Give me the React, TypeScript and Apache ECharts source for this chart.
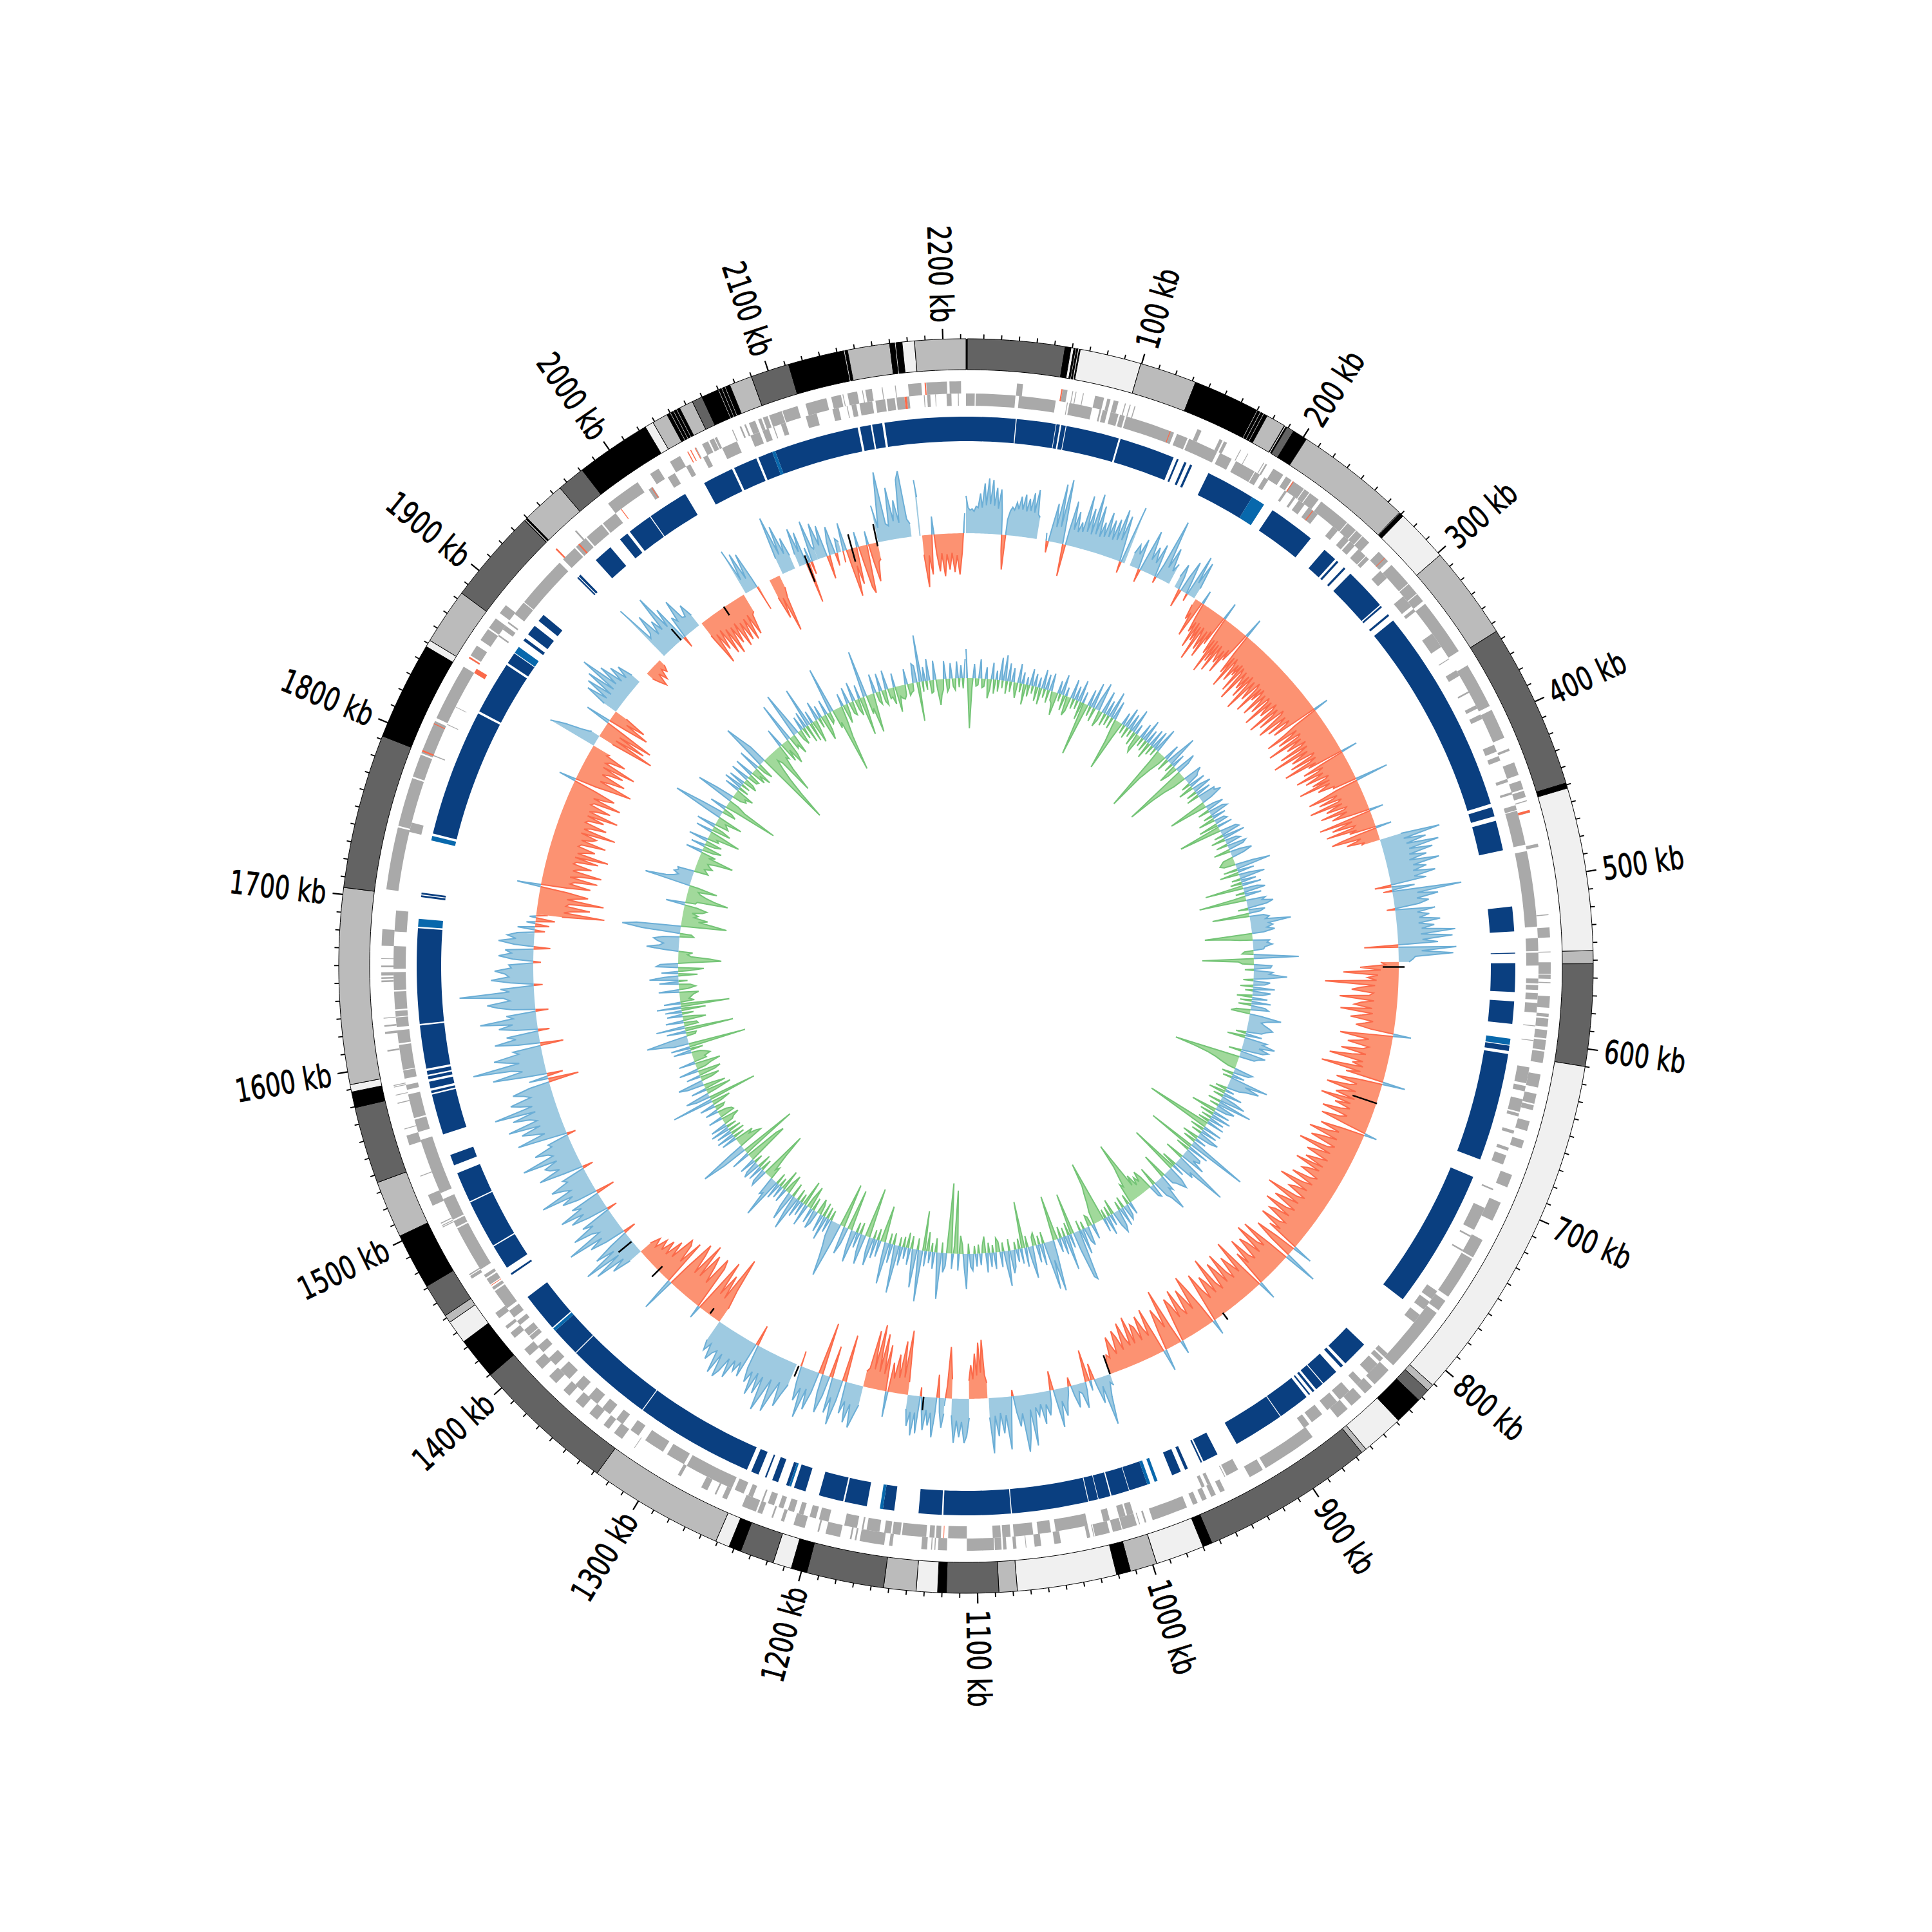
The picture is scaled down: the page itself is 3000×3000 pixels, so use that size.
import React, { useEffect, useRef } from "react";
import * as echarts from "echarts";

const genomeKb = 2213;
const tickLabelKb = [100,200,300,400,500,600,700,800,900,1000,1100,1200,1300,1400,1500,1600,1700,1800,1900,2000,2100,2200];
const minorTickStep = 10;

const bands: [number, number, string][] = [
[0,0.8,"gpos100"],[0.8,56,"gpos75"],[56,59.3,"gpos100"],[59.3,61,"gneg"],[61,62,"gpos100"],[62,62.4,"gneg"],[62.4,63.4,"gpos100"],[63.4,63.8,"gneg"],[63.8,64.6,"gpos100"],
[64.6,99.5,"gneg"],[99.5,132,"gpos50"],[132,170,"gpos100"],[170,170.4,"gneg"],[170.4,172,"gpos100"],[172,172.4,"gneg"],[172.4,174,"gpos100"],[174,174.4,"gneg"],[174.4,176.4,"gpos100"],
[176.4,187.5,"gpos50"],[187.5,188,"gpos100"],[188,188.4,"gneg"],[188.4,189.3,"gpos100"],[189.3,193.6,"gpos75"],[193.6,202,"gpos100"],[202,268.6,"gpos50"],[268.6,269.2,"gpos75"],[269.2,271.5,"gpos100"],
[271.5,301.7,"gneg"],[301.7,355,"gpos50"],[355,449,"gpos75"],[449,452,"gpos100"],[452,544.6,"gneg"],[544.6,552,"gpos50"],[552,610,"gpos75"],[610,811,"gneg"],[811,815,"gpos50"],[815,822.5,"gpos75"],
[822.5,838.6,"gpos100"],[838.6,863,"gneg"],[863,866,"gpos50"],[866,964.6,"gpos75"],[964.6,970,"gpos100"],[970,997.7,"gneg"],[997.7,1013,"gpos50"],[1013,1021,"gpos100"],[1021,1077.6,"gneg"],
[1077.6,1088,"gpos50"],[1088,1117.6,"gpos75"],[1117.6,1122.5,"gpos100"],[1122.5,1134.6,"gneg"],[1134.6,1153,"gpos50"],[1153,1197,"gpos75"],[1197,1206,"gpos100"],[1206,1216.6,"gneg"],[1216.6,1236,"gpos75"],
[1236,1243,"gpos100"],[1243,1251,"gneg"],[1251,1328,"gpos50"],[1328,1409.6,"gpos75"],[1409.6,1433.6,"gpos100"],[1433.6,1447,"gneg"],[1447,1451.5,"gpos50"],[1451.5,1471,"gpos75"],[1471,1503,"gpos100"],
[1503,1535.6,"gpos50"],[1535.6,1579.5,"gpos75"],[1579.5,1588.5,"gpos100"],[1588.5,1592.7,"gneg"],[1592.7,1704,"gpos50"],[1704,1792,"gpos75"],[1792,1848,"gpos100"],[1848,1852,"gneg"],[1852,1884,"gpos50"],
[1884,1938,"gpos75"],[1938,1938.5,"gpos100"],[1938.5,1939,"gneg"],[1939,1940,"gpos100"],[1940,1965,"gpos50"],[1965,1981,"gpos75"],[1981,2024,"gpos100"],[2024,2029,"gneg"],[2029,2038,"gpos50"],
[2038,2040,"gpos100"],[2040,2040.4,"gneg"],[2040.4,2042,"gpos100"],[2042,2042.4,"gneg"],[2042.4,2044,"gpos100"],[2044,2044.4,"gneg"],[2044.4,2046,"gpos100"],[2046,2054,"gpos50"],[2054,2060,"gpos75"],
[2060,2070,"gpos100"],[2070,2070.4,"gneg"],[2070.4,2072,"gpos100"],[2072,2072.4,"gneg"],[2072.4,2074,"gpos100"],[2074,2074.4,"gneg"],[2074.4,2077,"gpos100"],[2077,2090,"gpos50"],[2090,2112,"gpos75"],
[2112,2144,"gpos100"],[2144,2144.5,"gneg"],[2144.5,2146,"gpos100"],[2146,2170,"gpos50"],[2170,2173,"gpos100"],[2173,2173.5,"gneg"],[2173.5,2177,"gpos100"],[2177,2184,"gneg"],[2184,2213,"gpos50"],
];
const bandFill: Record<string, string> = { gneg: "#f0f0f0", gpos50: "#bbbbbb", gpos75: "#636363", gpos100: "#000000" };

const outerGenes: [number, number][] = [
[30.8,34.4],[58.5,61.5],[64.5,65],[66.5,67],[71,71.5],[78.5,84],[86,88],[90,93],[97,97.6],[100,100.6],[103,103.6],[143.4,146],[158,160],[161,163],[172,172.5],[177,177.4],[188,188.5],[189.5,190.5],[195,202],[204,208],[209,217],[217.5,221],[221.5,228],[230,250],[250.5,257],[257.5,262],[262.5,268],[276,284],[287,302],[302.5,310],[310.5,316],
[318,353],[363,391],[393.6,412],[419,420.5],[428,436],[439.6,445],[446,450],[452,452.6],[459,459.6],[479,481],[522,522.6],[530,536],[544.5,545],[551,558],[558.5,561],[563,563.6],[571.5,578.5],[582,584],[585,590],[592,597],[598,604],[605,612],[619,627],[631,637],[638,641],[648,654],[660,665],[682,690],[700,712],[725,737],[738,765],[768,775],[777,818],
[822,834],[836,842],[845,853],[856,864],[883,917],[919,928],[945,948],[951,954],[957,960],[963,966],[970,992],[996,997],[1000,1000.5],[1002,1011],[1011.5,1017],[1019,1028],[1028.5,1029],[1031,1033],[1049,1053],[1061,1065],[1070,1070.4],[1076,1078],[1082,1084],[1085,1089],[1089.5,1106],[1118,1123.4],[1125,1125.6],[1127,1127.6],[1130,1133.5],
[1151,1153],[1156,1171],[1173,1174],[1176,1177],[1183,1192],[1196,1197],[1205,1212],[1218,1220],[1225,1226],[1232,1235],[1236,1245],[1255,1258],[1262,1263],[1268,1272],[1286,1288],[1318.6,1319],[1328,1334],[1338,1342],[1347,1353],[1358,1364],[1369,1374],[1380,1386],[1392,1398],[1403,1408],[1417,1421],[1424,1426],[1432,1436],
[1461,1463],[1463.5,1464.3],[1496.5,1497],[1497.5,1498],[1499,1499.6],[1511,1518],[1530,1530.5],[1550,1556],[1560,1560.5],[1576,1576.6],[1581,1581.5],[1586,1586.5],[1587,1587.5],[1608,1609],[1618.6,1620],[1623,1624],[1628,1628.5],[1650,1651],[1652,1653],[1654,1656],[1659,1660],[1664,1664.4],[1672,1682],[1706,1744],[1745,1775],[1776,1790],[1791,1812],[1814,1849],
[1855,1855.5],[1857,1864],[1868,1876],[1877,1884],[1888,1894],[1955,1956],[1981,2003],[2012,2018],[2026,2033],[2043.5,2044],[2048,2052],[2053,2056],[2056.5,2058],[2068,2068.6],[2073,2074],[2076,2077],[2079,2083],[2085,2087],[2088,2091],[2092,2100],[2100.5,2110],[2115,2128],[2131,2137],[2138,2138.5],[2141,2147],[2150,2150.5],[2152,2156],[2162,2162.5],[2170,2170.5],[2178,2186],[2189,2201.5],[2203,2210],
];
const innerGenes: [number, number][] = [
[0,5.4],[6,30.5],[32.7,55.5],[62.5,63],[64,78.3],[83,84],[85,88],[90,95],[96,99],[100,131],[133,140],[141,160],[162,170],[173,186],[186.5,190],[193,196],[208,209.5],[214.5,216],[218.5,223],[226,233],[245,249],[254,258],[259,263],[266,272],[272.5,275],[285,291],[306,314],[316,318],[335,345],[353.5,354],[362,366],[377,378],[386.7,389],[393,396],[413.5,418],[421,424],[436,438],[444.6,446],[453,456],[456.5,478],[482,529],[536,544],[545,553],
[561,564],[565,568],[570,574],[576,582],[590,590.5],[599,599.5],[616,626],[627.7,631],[636,644],[645,647],[656,658],[667,669],[672,678],[694,695],[707,722],[726,727],[736,737],[766,772],[774,780],[784,790],[815,818],[819,822],[824,832],[838,842],[848,856],[858,866],[870,878],[880,884],[932,940],[941,941.5],[951,953],[955,957],[1002,1006],[1007,1011],[1017,1021],[1031,1051],[1054,1062],[1065,1077],[1079,1084],[1085,1090],[1106,1117.5],[1122,1125],[1126,1129],[1131,1146],
[1147,1152],[1153,1157],[1160,1168],[1170,1171],[1174,1182],[1192,1198],[1200,1204],[1208,1211],[1214,1218],[1221,1224],[1227,1231],[1234,1235],[1241,1244],[1247,1253],[1255,1286],[1288,1300],[1303,1316],[1321,1327],[1333,1338],[1343,1349],[1353,1360],[1365,1371],[1376,1384],[1388,1394],[1399,1404],[1409,1412],[1412.5,1417],[1421,1424],[1427,1432],[1434,1447],[1448,1450],[1452,1456],[1457,1459],[1463,1492],[1493,1497],[1498,1512],[1516,1551],
[1556,1564],[1565,1580],[1583,1586],[1590,1595],[1595.5,1611],[1612,1620],[1622,1628],[1628.5,1632],[1633,1644],[1645,1656],[1658,1672],[1681,1694],[1743,1749],[1792,1792.6],[1813,1813.5],[1825,1825.4],[1876,1877],[1881,1884],[1886,1887],[1893,1902],[1902.5,1935],[1938,1948],[1949,1957],[1958,1970],[1971,1981],[2006,2009],[2020,2025],[2033,2036],[2045,2048],[2058,2068],[2077,2083],[2085,2089],[2092,2092.6],[2097,2100],[2113,2120],[2130,2134],[2139,2139.5],[2142,2145],[2147,2155],[2157,2163],[2164,2169],[2170,2175],[2176.5,2178],[2187,2187.5],[2189,2191],[2194,2194.4],[2201,2204],[2208,2208.5],
];
const redOuterGenes: [number, number][] = [[57.7,58.5],[209,209.6],[281,281.4],[458,459.5],[1792,1793],[1810,1810.5],[1855,1856],[1939,1940],[2038,2038.6],[2040,2040.6],[2043,2043.5],[2188,2188.8]];
const redInnerGenes: [number, number][] = [[128.3,128.8],[229,229.6],[1120,1120.4],[1451,1451.4],[1849,1852],[1951,1952],[1985,1985.5],[2008,2008.5],[2175,2176.5]];

const darkBlocks: [number, number][] = [
[0,32],[32.6,57.9],[58.3,60.5],[61.5,64.3],[64.8,99.3],[100.5,136.5],[138.8,140],[144,145.5],[148,149.5],[161,193],[208.5,239],[250.4,259.5],[261,262.4],[267.2,268.6],[273,300.6],[301.4,302.6],[308.4,309.8],[313.7,447.6],[450,456],[459,478.5],[515,531],[544.7,545.3],[551.4,570],[576,590.5],[604.5,608],[610,680],[692,782.8],[821,838],[840,842],[846,857],[857.6,863],[864.5,866],[868,869],[871,891.5],[892,925],[939,949],[950,951],[960,962],[965,971],[988,1000],[1000.4,1012],[1012.8,1020.6],[1021,1027],[1027.5,1077],[1077.6,1121],[1122,1137],[1152.7,1160],[1170.5,1185],[1186,1202],[1211,1218.7],[1222,1224],[1229.5,1233.5],[1237.5,1238.5],[1243,1248],[1251,1328],[1328.6,1384.4],[1385,1404],[1406.8,1432],[1449.4,1450.6],[1455,1471],[1471.8,1503],[1503.8,1523.5],[1529,1536],[1550,1576.5],[1577.5,1579],[1580.5,1585],[1586.5,1588.5],[1589.5,1592],[1593.5,1621.5],[1622.5,1684],[1704,1705.2],[1705.8,1707],[1745.5,1828],[1829.5,1864],[1865.5,1873],[1883,1885],[1888,1895],[1899,1904],[1936,1937],[1937.5,1939],[1952.5,1965],[1973,1979],[1981,1997],[1997.6,2024],[2038,2058],[2059.5,2075],[2076.5,2086],[2088,2143],[2144.5,2151.5],[2152.5,2159],[2160.5,2213],
];
const mediumBlocks: [number, number][] = [[193,202],[600,604],[981,983],[1160,1162],[1220.7,1222],[1404,1406],[1685,1690],[1741,1744],[1873.5,1878],[2086,2088],[986,988]];

// [first kb, last kb, heights from the ring baseline: outward positive, inward negative]
const skew0: [number, number, number[]] = [0,57.7,[58,40,36,38,34,42,40,62,40,78,44,86,46,84,44,72,40,70,36,-25,-54,24,38,44,40,52,42,62,42,66,40,60,42,70,40,76,38,34]];
const skew1: [number, number, number[]] = [65,132,[12,-18,22,60,24,92,26,101,26,-50,24,70,26,55,24,40,26,84,28,66,26,91,28,74,26,50,28,68,30,58,28,62,30,80,32,72,30,-18,40,92]];
const skew2: [number, number, number[]] = [136.6,172,[20,36,22,48,-21,24,67,22,44,20,52,-10,24,98,22,56,20,34]];
const skew3: [number, number, number[]] = [177,195.6,[18,40,20,-29,24,52,22,-12,67,24,60,18]];
const skew4: [number, number, number[]] = [197,449,[-10,-34,-22,-60,-26,22,-24,-48,-30,-72,-28,-58,-32,-88,-30,-44,-66,-32,-76,-28,-50,28,-30,-62,-36,-92,-34,-70,-38,-84,-36,-54,-64,-40,-78,-34,-52,-30,32,-34,-68,-38,-90,-36,-48,-74,-42,-60,-38,-86,-40,-50,-96,-42,-56,-70,-44,-82,-40,-58,-100,-44,-62,-76,-40,-48,-92,-44,-66,-42,-54,-88,-46,-60,-78,-44,-50,-96,-46,-64,-72,-42,-52,-98,-46,-58,-84,-40,-46,-70,-92,-44,-56,-80,-42,-50,-74,-38,24,-40,-62,-94,-42,-54,-78,-40,-46,-100,-44,-60,-72,-40,-50,-88,-42,-56,-104,-46,-62,-76,-38,-44,-82,-40,-52,-96,-44,-58,26,-40,-70,-38,-48,-86,-42,-54,-74,-36,-42,-66,-38,-90,-40,-50,-62,-36,-38,52,-36,-58,-84,-38,-46,-70,-34,-40,-88,-36,-52,-64,-32,-36,-76,-34,-46,-60,-30,22,-30,-84,-32,-48,-66,-30,-34,-78,-30,-42,25,-28,-58,-74,-28,-36,-52,-24,-30]];
const skew5: [number, number, number[]] = [449,550,[34,95,36,70,38,88,40,76,38,64,36,82,40,60,38,72,38,56,-26,36,-14,108,38,70,36,54,38,-13,62,34,52,36,68,34,58,38,90,36,85,38,62,-53,90,36,85,26,22,16]];
const skew6: [number, number, number[]] = [550,987,[-28,-20,-60,-28,-86,-32,-48,-34,-114,-36,-58,-72,-38,-44,-90,-36,-56,-66,-38,-87,-36,-52,-70,-34,-46,-60,-36,28,-34,-82,-36,-50,-68,-34,-42,-76,-36,-58,-92,-38,-54,-36,-101,-38,-60,36,-36,-72,-38,-48,-84,-36,-56,-66,-34,-87,-38,-62,-36,-50,-78,-36,-46,-75,-34,20,-36,-70,-38,-54,-84,-36,-60,-76,-34,-44,-90,-36,-58,-72,-34,-52,-68,-36,-80,-38,-56,-64,-34,-44,-74,-36,-52,-88,-38,-58,-66,-34,-46,-96,-38,-60,-76,-36,-50,-84,-38,-62,-70,-36,-44,-75,-36,-54,32,-34,-68,-36,54,-34,-82,-38,-50,-86,-36,-60,-72,-34,-44,-78,-36,-58,30,-34,-89,-36,-54,-70,-34,-48,-84,-36,-60,-76,-32,-46,-92,-34,-56,-68,-32,-50,-80,-34,24,-32,-64,-88,-34,-54,-72,-32,-44,-78,-34,-58,-70,-32,21,-30,-92,-32,-50,-66,-30,34,-30,-74,-32,-46,-68,-30,-54,-60,-30,-75,-30,-44,-70,-28,-50,-62,-26,-40,-56,-24,-30,-18]];
const skew7: [number, number, number[]] = [987,1088,[18,12,34,77,14,40,12,-26,16,-50,14,40,16,12,36,16,-14,10,24,44,20,60,16,-30,20,38,20,50,18,36,22,81,24,64,89,28,48,26,-10,30,82,28,56,24,60,28,86,30]];
const skew8: [number, number, number[]] = [1089,1104,[-24,-36,-91,-40,-87,-36,-70,-30,-52,-28]];
const skew9: [number, number, number[]] = [1104,1118,[30,58,69,36,60,34,69,26]];
const skew10: [number, number, number[]] = [1118,1124,[-30,-80,-20,12]];
const skew11: [number, number, number[]] = [1124,1154,[24,46,22,-36,26,62,24,44,20,52,24,-14,58,26,62,26,48,22]];
const skew12: [number, number, number[]] = [1154,1191,[-20,-100,-26,-82,-24,-60,-22,-46,40,-72,-26,-88,-28,-101,-30,-90,-30,-24]];
const skew13: [number, number, number[]] = [1191,1245,[30,48,68,32,62,30,50,-74,32,72,30,56,-50,32,60,30,-82,32,62,30,78,32,54,26,-24]];
const skew14: [number, number, number[]] = [1248,1320,[34,52,74,36,60,89,38,66,93,40,70,38,76,40,60,38,-33,58,36,54,38,70,40,64,77,40,75,40,46,60,36,50,34]];
const skew15: [number, number, number[]] = [1320,1406,[-24,-56,-108,-34,-72,-36,-90,-38,21,-70,-84,-36,-62,-80,-38,-92,-36,-66,-84,-36,54,-74,-34,-63,-70,-30,-56,-26,-48,-26,-42,-22,-36,-20]];
const skew16: [number, number, number[]] = [1406,1686,[22,52,28,76,30,88,32,62,30,-20,32,58,34,90,32,42,72,34,50,-16,32,60,36,73,34,48,-30,32,56,36,86,34,44,62,32,38,-17,30,70,34,48,54,32,86,34,40,60,30,34,-14,30,78,32,50,66,34,84,36,46,72,34,98,36,54,68,34,44,60,32,-48,30,-25,32,84,36,52,112,38,58,76,36,44,-36,34,70,36,50,-18,34,60,38,88,36,46,-20,36,58,74,38,48,116,38,52,-14,36,66,38,44,60,34,38,-12,32,54,34,44,-26,30,55,28,42,26]];
const skew17: [number, number, number[]] = [1686,1702,[28,-16,27,-22,14,-30,10,-18]];
const skew18: [number, number, number[]] = [1702,1848,[-40,-106,-42,-54,-82,-44,-48,-102,-44,-60,-76,-42,37,-40,-77,-44,-50,-86,-42,-58,-90,-44,-52,-72,-42,-46,-80,-42,-94,-44,-56,-70,-42,-46,-84,-44,-60,-66,-40,-94,-42,-52,-76,-40,-44,-68,-40,-88,-40,-50,-72,-38,-42,-84,-38,-58,-70,-36,27,-34,-62,-90,-36,-52,-74,-34,-44,-66,-30,-82,-30,-36,-60,-26,-30]];
const skew19: [number, number, number[]] = [1848,1857,[78,72,66,60,54,46,38,30,24,18,14]];
const skew20: [number, number, number[]] = [1857,1881,[-24,-92,-26,-74,-28,-82,-30,40,-28,-66,-26,-56,-20]];
const skew21: [number, number, number[]] = [1881,1912,[22,57,24,63,22,69,24,86,26,60,22,48,20,40,16]];
const skew22: [number, number, number[]] = [1921,1936,[-12,-24,-34,-14,-28,-12,-20,-10]];
const skew23: [number, number, number[]] = [1941,1979,[97,34,40,70,30,52,32,89,30,60,-18,36,26,60,26,24,42,20]];
const skew24: [number, number, number[]] = [1981.5,2023,[-24,-77,-28,-58,-26,-70,-30,-75,-32,-62,-30,-72,-34,-66,-32,-70,-30,-65,-34,-30]];
const skew25: [number, number, number[]] = [2025,2037,[75,22,65,20,60,16,-40]];
const skew26: [number, number, number[]] = [2047,2056,[-30,-66,-34,-90,-36,-20]];
const skew27: [number, number, number[]] = [2059,2070,[26,93,30,75,28,52,22]];
const skew28: [number, number, number[]] = [2074,2090,[20,61,22,52,-64,24,-20,65,22,16]];
const skew29: [number, number, number[]] = [2090,2110,[18,57,20,50,-37,22,44,-20,22,16]];
const skew30: [number, number, number[]] = [2111,2140.5,[-18,44,-26,-75,-28,-58,24,-26,-66,-76,21,-28,-60,-30,-26]];
const skew31: [number, number, number[]] = [2141,2168.6,[58,22,62,108,26,22,81,28,60,24,91,104,28,20]];
const skew32: [number, number, number[]] = [2175,2176,[87,60]];
const skew33: [number, number, number[]] = [2177.2,2212,[-30,-81,-32,-62,28,-30,-58,-30,-66,-32,-56,-30,-60,-34,-64,-30,31]];
const skewSegments = [skew0,skew1,skew2,skew3,skew4,skew5,skew6,skew7,skew8,skew9,skew10,skew11,skew12,skew13,skew14,skew15,skew16,skew17,skew18,skew19,skew20,skew21,skew22,skew23,skew24,skew25,skew26,skew27,skew28,skew29,skew30,skew31,skew32,skew33];

const skewBlackMarks: [number, number, number][] = [[554,647,681],[667,633,673],[987,641,672],[882,670,683],[1141,672,693],[1246,673,691],[1330,660,670],[1385,663,686],[1417,673,699],[1960,672,695],[2004,657,673],[2081,641,685],[2119,651,695],[2140,666,701]];

// inner ring, one list per 100 kb, one value per 2.5 kb
const gc000 = [45,-20,-78,-15,22,-12,-10,30,-14,-12,18,-30,-16,26,-22,14,-18,35,-12,40,-20,28,-16,22,-10,-24,30,-14,18,-32,12,-18,26,-12,20,-22,16,-26,30,-14];
const gc100 = [24,-20,28,-14,-18,-36,20,-12,32,-24,14,-30,-22,30,-16,22,-14,34,-28,18,-84,-30,26,-16,40,-22,18,45,-26,-14,36,-20,24,-16,42,-18,30,-12,-36,-82];
const gc200 = [-26,20,-14,32,-18,26,-12,38,-22,16,-24,-30,24,-14,35,-18,22,-26,28,-16,30,-12,40,-20,-106,-50,-30,-14,26,-20,18,50,-14,22,-30,-16,34,20,-101,-60];
const gc300 = [-36,-20,30,22,18,-14,26,-24,14,30,-16,24,-20,28,26,36,16,-61,-24,14,28,-18,24,30,-14,22,-26,16,20,-30,24,-67,-18,26,30,-14,35,-22,18,24];
const gc400 = [-18,30,24,-26,16,34,20,-16,-20,-24,-18,28,55,-22,26,-30,18,40,-14,24,-18,30,-60,22,34,-14,26,-18,-74,30,24,41,30,-16,26,18,-58,22,30,24];
const gc500 = [63,28,34,24,36,18,-74,-42,-20,26,22,30,18,16,-14,-18,22,70,-80,-24,-18,28,26,-14,30,24,52,22,-16,26,18,-20,34,-12,28,16,-24,24,-18,30];
const gc600 = [-20,22,28,-22,-30,18,50,30,20,26,34,40,30,24,-16,26,-28,36,30,50,26,42,34,-20,40,30,24,-103,-70,-48,-34,-24,-12,30,24,-18,20,-14,61,26];
const gc700 = [50,30,20,-18,14,-26,30,-16,22,40,-20,54,-14,30,18,-40,26,-22,32,-16,24,-18,28,-102,-40,30,-22,26,-16,34,22,-26,18,-20,24,95,-75,34,-22,26];
const gc800 = [28,18,40,-30,24,87,26,34,-24,20,-77,24,38,30,22,18,-40,26,20,57,34,26,-30,22,18,-22,-34,-18,-28,-16,-36,-20,-97,-60,-44,-26,-32,20,-16,18];
const gc900 = [24,-18,30,-14,26,36,22,-24,18,-16,30,-14,22,-97,-60,-48,-32,-20,24,-14,-18,30,22,-12,40,-16,80,75,30,-65,22,-20,55,-14,28,-18,22,-12,-70,24];
const gc1000 = [80,30,75,24,-18,34,-14,28,-20,-14,50,22,-18,30,-73,24,-16,20,-12,26,36,-18,55,22,-14,24,-16,-22,26,-12,22,-16,30,-26,-12,18,-14,20,-12,26];
const gc1100 = [20,-16,55,22,-14,-28,26,-98,-12,24,-109,-50,20,30,-16,72,24,-22,26,-14,18,-30,24,-62,80,28,-18,60,22,-20,26,-24,18,-16,30,-14,75,22,-18,30];
const gc1200 = [-16,65,24,-57,-20,26,-18,30,-14,44,22,-78,-26,47,28,-18,24,-16,50,28,-14,-64,26,44,-20,-69,30,88,60,40,26,-16,22,-18,38,-22,28,-14,-24,20];
const gc1300 = [30,-20,24,-36,-16,35,-40,22,-14,28,-18,55,26,-22,45,24,-30,-16,22,-32,20,-14,26,-18,65,26,30,-20,-14,-40,-76,28,22,-18,24,-22,28,20,-14,26];
const gc1400 = [-20,-67,-55,30,-14,-90,40,76,22,-40,-34,-22,-30,24,-18,28,-22,24,-20,30,-16,26,-14,-18,-28,22,-24,-22,-14,20,-12,-16,24,-14,-30,65,-76,22,38,-14];
const gc1500 = [-40,24,-34,-14,26,40,-18,-30,22,-26,-36,30,-14,-24,-40,26,-20,-18,-28,-22,-14,28,-20,30,-90,24,40,65,28,-14,-16,30,-76,45,-22,-20,28,-36,-18,24];
const gc1600 = [-18,26,-38,38,-76,26,-22,-14,-18,-22,-30,32,-14,-26,-18,30,-14,45,22,-30,26,-18,-40,34,28,-20,-67,-50,-20,-14,-22,22,50,30,24,34,40,26,-22,-18];
const gc1700 = [60,91,69,-14,-71,-50,-26,-40,-18,-24,-14,-30,-36,-20,30,-16,-18,-66,-44,-30,-20,-16,-45,-14,72,40,28,22,30,24,26,-22,-18,-14,-26,-20,-16,-30,-55,-14];
const gc1800 = [-24,26,-18,-30,22,-16,-26,30,-18,-14,-50,-20,26,-30,-16,30,-22,-18,-14,-40,24,80,34,-22,-14,26,-18,-86,-30,-16,60,30,-14,-22,-18,-30,24,-16,30,-14];
const gc1900 = [26,-22,-14,30,-16,-18,30,-24,-12,-30,34,-14,-26,73,50,30,-121,-80,-50,-30,-14,-22,-78,-40,-20,-24,30,-32,-14,-40,-26,63,-20,-16,-32,72,28,-14,-24,22];
const gc2000 = [-18,26,-28,63,-30,20,-36,-14,30,-16,20,-40,-26,24,-18,-14,72,-30,-22,-104,-50,-24,20,-30,-14,26,-18,-22,30,-16,-26,22,-60,-14,73,-30,-22,-61,-16,30];
const gc2100 = [-14,-20,28,-18,-24,30,-16,-14,-26,22,-40,-16,-20,-22,-16,24,-18,-14,-12,30,26,-61,73,-16,22,-14,34,-20,-18,30,-14,-40,-24,-16,28,-20,-14,24,-12,-18,26,-14,20,-16,30];
const gcValues = [gc000,gc100,gc200,gc300,gc400,gc500,gc600,gc700,gc800,gc900,gc1000,gc1100,gc1200,gc1300,gc1400,gc1500,gc1600,gc1700,gc1800,gc1900,gc2000,gc2100].flat();

type Run = { sign: number; pts: [number, number][] };
function buildRuns(segments: [number, number, number[]][]): Run[] {
  const runs: Run[] = [];
  segments.forEach(([a, b, vals]) => {
    const step = vals.length > 1 ? (b - a) / (vals.length - 1) : 0;
    let cur: Run | null = null;
    vals.forEach((v, i) => {
      const kb = a + i * step;
      const sign = Math.sign(v);
      if (cur && cur.sign !== sign) {
        const prev = vals[i - 1];
        const xc = kb - step + (step * prev) / (prev - v);
        cur.pts.push([xc, 0]);
        runs.push(cur);
        cur = { sign, pts: [[xc, 0]] };
      } else if (!cur) {
        cur = { sign, pts: [] };
      }
      cur!.pts.push([kb, v]);
    });
    if (cur) runs.push(cur);
  });
  return runs;
}

const R_OUT = 974, R_IN = 926, MAJOR = 990, MINOR = 981, LABEL_R = 1000;
const OUTER_ROW: [number, number] = [889, 908];
const INNER_ROW: [number, number] = [870, 889];
const BLOCK_ROW: [number, number] = [815, 853];
const SKEW_BASE = 672, GC_BASE = 447;

function arc(api: any, r: number, a: number, b: number) {
  const n = Math.max(1, Math.ceil(Math.abs(b - a) / 4));
  const out: number[][] = [];
  for (let i = 0; i <= n; i++) out.push(api.coord([r, a + ((b - a) * i) / n]));
  return out;
}
function ring(api: any, r0: number, r1: number, a: number, b: number) {
  return arc(api, r1, a, b).concat(arc(api, r0, b, a));
}

function blockSeries(items: [number, number][], row: [number, number], fill: string) {
  return {
    type: "custom", coordinateSystem: "polar", silent: true, clip: false,
    data: items.map((it) => [it[0], it[1]]),
    renderItem: (_: any, api: any) => ({
      type: "polygon",
      shape: { points: ring(api, row[0], row[1], api.value(0), api.value(1)) },
      style: { fill, stroke: null },
    }),
  };
}

function histSeries(runs: Run[], base: number, posFill: string, posLine: string, negFill: string, negLine: string) {
  return {
    type: "custom", coordinateSystem: "polar", silent: true, clip: false,
    data: runs.map((_, i) => [i, i]),
    renderItem: (p: any, api: any) => {
      const run = runs[api.value(0)];
      if (!run || run.sign === 0) return { type: "group", children: [] };
      const line = run.pts.map(([kb, v]) => api.coord([base + v, kb]));
      const floor = run.pts.slice().reverse().map(([kb]) => api.coord([base, kb]));
      const pos = run.sign > 0;
      return {
        type: "group",
        children: [
          { type: "polygon", shape: { points: line.concat(floor) }, style: { fill: pos ? posFill : negFill, stroke: null } },
          { type: "polyline", shape: { points: line }, style: { fill: "none", stroke: pos ? posLine : negLine, lineWidth: 2, lineJoin: "miter" } },
        ],
      };
    },
  };
}

export default function App() {
  const ref = useRef<HTMLDivElement>(null);
  useEffect(() => {
    const chart = echarts.init(ref.current!, undefined, { renderer: "svg" });
    const ticks: number[] = [];
    for (let k = minorTickStep; k < genomeKb; k += minorTickStep) ticks.push(k);
    chart.setOption({
      animation: false,
      backgroundColor: "#ffffff",
      polar: { center: [1500, 1500], radius: [0, 1000] },
      angleAxis: { type: "value", min: 0, max: genomeKb, startAngle: 90, clockwise: true, show: false },
      radiusAxis: { type: "value", min: 0, max: 1000, show: false },
      series: [
        histSeries(buildRuns([[0, 2212, gcValues]]), GC_BASE, "#9ecae1", "#6baed6", "#a1d99b", "#74c476"),
        histSeries(buildRuns(skewSegments), SKEW_BASE, "#9ecae1", "#6baed6", "#fc9272", "#fb6a4a"),
        {
          type: "custom", coordinateSystem: "polar", silent: true, clip: false,
          data: skewBlackMarks.map((m) => [m[1], m[0], m[2]]),
          renderItem: (_: any, api: any) => {
            const a = api.coord([api.value(0), api.value(1)]);
            const b = api.coord([api.value(2), api.value(1)]);
            return { type: "line", shape: { x1: a[0], y1: a[1], x2: b[0], y2: b[1] }, style: { stroke: "#000", lineWidth: 2.5 } };
          },
        },
        blockSeries(darkBlocks, BLOCK_ROW, "#0a3f80"),
        blockSeries(mediumBlocks, BLOCK_ROW, "#0868ac"),
        blockSeries(outerGenes, OUTER_ROW, "#a9a9a9"),
        blockSeries(innerGenes, INNER_ROW, "#a9a9a9"),
        blockSeries(redOuterGenes, OUTER_ROW, "#fb6a4a"),
        blockSeries(redInnerGenes, INNER_ROW, "#fb6a4a"),
        {
          type: "custom", coordinateSystem: "polar", silent: true, clip: false,
          data: bands.map((b, i) => [b[0], b[1], i]),
          renderItem: (_: any, api: any) => {
            const a = api.value(0), b = api.value(1);
            const fill = bandFill[bands[api.value(2)][2]];
            return {
              type: "polygon",
              shape: { points: ring(api, R_IN, R_OUT, a, b) },
              style: { fill, stroke: b - a < 1 ? null : "#000", lineWidth: 1 },
            };
          },
        },
        {
          type: "custom", coordinateSystem: "polar", silent: true, clip: false,
          data: ticks.map((k) => [k, k]),
          renderItem: (_: any, api: any) => {
            const k = api.value(0);
            const major = k % 100 === 0;
            const a = api.coord([R_OUT, k]);
            const b = api.coord([major ? MAJOR : MINOR, k]);
            return { type: "line", shape: { x1: a[0], y1: a[1], x2: b[0], y2: b[1] }, style: { stroke: "#000", lineWidth: major ? 2.2 : 1.8 } };
          },
        },
        {
          type: "custom", coordinateSystem: "polar", silent: true, clip: false,
          data: tickLabelKb.map((k) => [k, k]),
          renderItem: (_: any, api: any) => {
            const k = api.value(0);
            const p = api.coord([LABEL_R, k]);
            const deg = (k / genomeKb) * 360;
            const right = deg <= 180;
            const cw = right ? deg - 90 : deg + 90;
            return {
              type: "text",
              x: p[0], y: p[1],
              rotation: (-cw * Math.PI) / 180,
              scaleX: 0.74,
              style: { text: `${k} kb`, fontFamily: "DejaVu Sans", fontSize: 50, fill: "#000", stroke: "#000", lineWidth: 0.8, align: right ? "left" : "right", verticalAlign: "middle" },
            };
          },
        },
      ],
    });
    return () => chart.dispose();
  }, []);
  return <div ref={ref} style={{ position: "fixed", left: 0, top: 0, width: 3000, height: 3000, background: "#fff" }} />;
}
